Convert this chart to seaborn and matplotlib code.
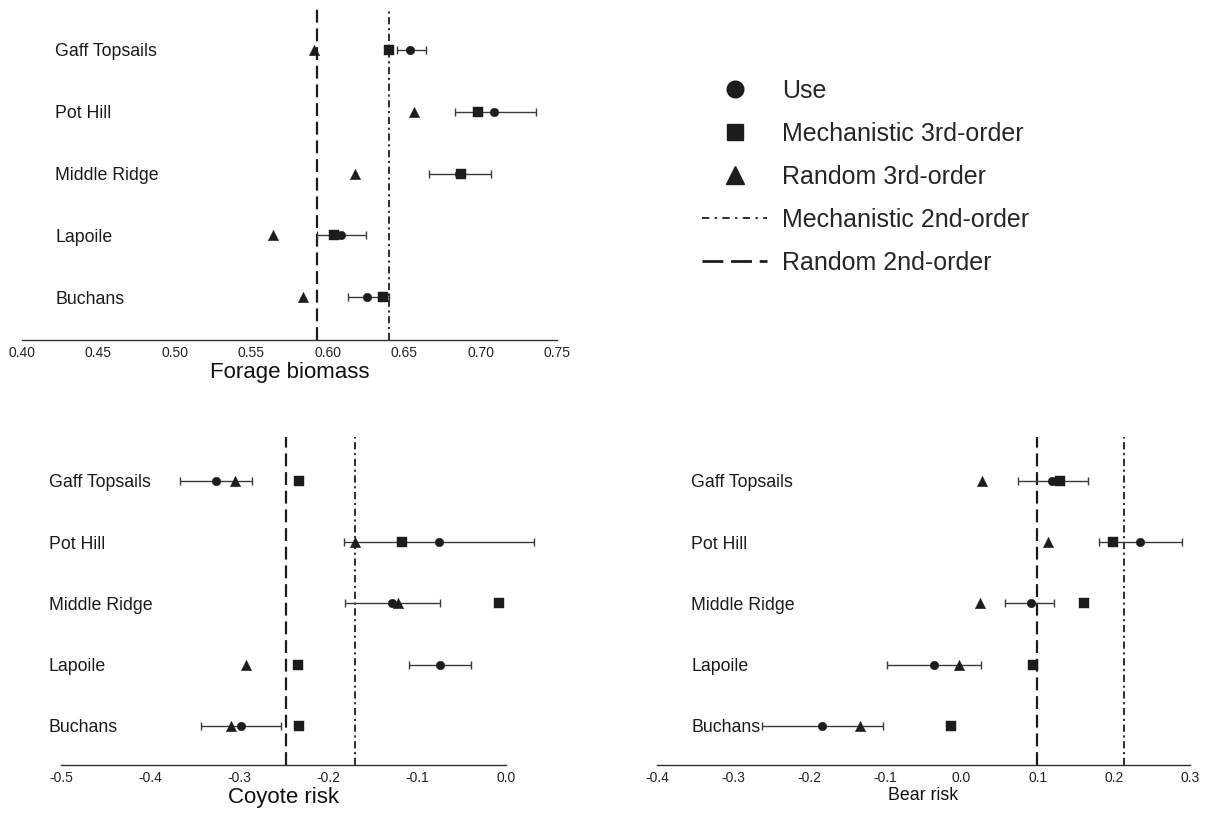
import numpy as np
import pandas as pd
import matplotlib
matplotlib.use("Agg")
import matplotlib.pyplot as plt
import seaborn as sns
from matplotlib.lines import Line2D

# ---------------- data ----------------
sites = ["Gaff Topsails", "Pot Hill", "Middle Ridge", "Lapoile", "Buchans"]

forage_use = [0.654, 0.709, 0.686, 0.6085, 0.6256]
forage_use_lo = [0.645, 0.683, 0.666, 0.593, 0.613]
forage_use_hi = [0.664, 0.736, 0.707, 0.625, 0.640]
forage_mech3 = [0.640, 0.698, 0.687, 0.604, 0.636]
forage_rand3 = [0.591, 0.6565, 0.618, 0.564, 0.584]
forage_mech2 = 0.640
forage_rand2 = 0.593
forage_ticks = [0.40, 0.45, 0.50, 0.55, 0.60, 0.65, 0.70, 0.75]

coyote_use = [-0.326, -0.075, -0.128, -0.074, -0.298]
coyote_use_lo = [-0.366, -0.182, -0.181, -0.109, -0.343]
coyote_use_hi = [-0.285, 0.032, -0.074, -0.039, -0.253]
coyote_mech3 = [-0.233, -0.117, -0.008, -0.234, -0.233]
coyote_rand3 = [-0.305, -0.170, -0.121, -0.292, -0.309]
coyote_mech2 = -0.170
coyote_rand2 = -0.247
coyote_ticks = [-0.5, -0.4, -0.3, -0.2, -0.1, 0.0]

bear_use = [0.119, 0.234, 0.0906, -0.0357, -0.1835]
bear_use_lo = [0.074, 0.180, 0.057, -0.098, -0.2625]
bear_use_hi = [0.166, 0.290, 0.122, 0.026, -0.1035]
bear_mech3 = [0.129, 0.1986, 0.161, 0.094, -0.0143]
bear_rand3 = [0.0274, 0.114, 0.024, -0.004, -0.134]
bear_mech2 = 0.213
bear_rand2 = 0.099
bear_ticks = [-0.4, -0.3, -0.2, -0.1, 0.0, 0.1, 0.2, 0.3]

series_names = ["Use", "Mechanistic 3rd-order", "Random 3rd-order"]
series_markers = {"Use": "o", "Mechanistic 3rd-order": "s", "Random 3rd-order": "^"}
series_sizes = {"Use": 38, "Mechanistic 3rd-order": 42, "Random 3rd-order": 56}

# ---------------- style ----------------
sns.set_style("white")
plt.rcParams["font.family"] = ["Liberation Sans", "DejaVu Sans"]
plt.rcParams["axes.unicode_minus"] = False
plt.rcParams["lines.scale_dashes"] = True

INK = "#1c1c1c"
DASHED = (5.8, 2.6)
DASHDOT = (4.0, 2.0, 1.2, 2.0)

fig = plt.figure(figsize=(12.09, 8.13), dpi=100)

panels = [
    dict(rect=[22/1209, 1-340/813, 535/1209, 332/813], xlim=(0.40, 0.75), ylim=(-0.696, 4.68),
         ticks=forage_ticks, fmt="{:.2f}", xlabel="Forage biomass", xlfs=16, lab_x=0.0617,
         use=forage_use, lo=forage_use_lo, hi=forage_use_hi, mech3=forage_mech3, rand3=forage_rand3,
         mech2=forage_mech2, rand2=forage_rand2),
    dict(rect=[61/1209, 1-765/813, 445/1209, 328/813], xlim=(-0.5, 0.0), ylim=(-0.637, 4.718),
         ticks=coyote_ticks, fmt="{:.1f}", xlabel="Coyote risk", xlfs=16, lab_x=-0.027,
         use=coyote_use, lo=coyote_use_lo, hi=coyote_use_hi, mech3=coyote_mech3, rand3=coyote_rand3,
         mech2=coyote_mech2, rand2=coyote_rand2),
    dict(rect=[657/1209, 1-765/813, 533/1209, 328/813], xlim=(-0.4, 0.3), ylim=(-0.637, 4.718),
         ticks=bear_ticks, fmt="{:.1f}", xlabel="Bear risk", xlfs=12.8, lab_x=0.0638,
         use=bear_use, lo=bear_use_lo, hi=bear_use_hi, mech3=bear_mech3, rand3=bear_rand3,
         mech2=bear_mech2, rand2=bear_rand2),
]

n = len(sites)
ypos = [n - 1 - i for i in range(n)]

for p in panels:
    ax = fig.add_axes(p["rect"])
    df = pd.DataFrame({
        "site": sites * 3,
        "y": ypos * 3,
        "value": list(p["use"]) + list(p["mech3"]) + list(p["rand3"]),
        "series": [s for s in series_names for _ in sites],
    })
    # error bars on use
    use = np.array(p["use"])
    xerr = np.vstack([use - np.array(p["lo"]), np.array(p["hi"]) - use])
    ax.errorbar(use, ypos, xerr=xerr, fmt="none", ecolor="#3a3a3a", elinewidth=1.0,
                capsize=3, capthick=1.0, clip_on=False, zorder=2)
    # reference lines
    ax.axvline(p["rand2"], color=INK, lw=1.6, dashes=DASHED, zorder=1)
    ax.axvline(p["mech2"], color=INK, lw=1.3, dashes=DASHDOT, zorder=1)
    for s in series_names:
        sns.scatterplot(data=df[df["series"] == s], x="value", y="y", marker=series_markers[s],
                        s=series_sizes[s], color=INK, edgecolor=INK, linewidth=0.3,
                        ax=ax, legend=False, zorder=3, clip_on=False)
    ax.set_xlim(*p["xlim"])
    ax.set_ylim(*p["ylim"])
    ax.set_xticks(p["ticks"])
    ax.set_xticklabels([p["fmt"].format(t) for t in p["ticks"]], fontsize=10, color="#222222")
    ax.set_yticks([])
    ax.set_ylabel("")
    ax.set_xlabel(p["xlabel"], fontsize=p["xlfs"], labelpad=1, color="#111111")
    for side in ["top", "right", "left"]:
        ax.spines[side].set_visible(False)
    ax.spines["bottom"].set_color("#333333")
    ax.spines["bottom"].set_linewidth(1.0)
    ax.tick_params(axis="x", direction="in", length=5.5, width=1.0, color="#333333", pad=4.5)
    for site, yv in zip(sites, ypos):
        ax.text(p["lab_x"], yv, site, transform=ax.get_yaxis_transform(), ha="left",
                va="center_baseline", fontsize=12.8, color="#1a1a1a")
    ax.set_facecolor("none")

# legend
handles = [
    Line2D([], [], ls="none", marker="o", ms=12, color=INK),
    Line2D([], [], ls="none", marker="s", ms=11.5, color=INK),
    Line2D([], [], ls="none", marker="^", ms=13.5, color=INK),
    Line2D([], [], color=INK, lw=1.3, dashes=(4.0, 3.0, 1.3, 3.0)),
    Line2D([], [], color=INK, lw=2.0, dashes=(7.5, 2.8)),
]
labels = ["Use", "Mechanistic 3rd-order", "Random 3rd-order", "Mechanistic 2nd-order", "Random 2nd-order"]
fig.legend(handles, labels, loc="upper left", bbox_to_anchor=(702/1209, 1-79/813),
           frameon=False, fontsize=18, handlelength=2.6, handletextpad=0.6,
           labelspacing=0.76, borderpad=0, borderaxespad=0)

fig.savefig("out.png", dpi=100)
